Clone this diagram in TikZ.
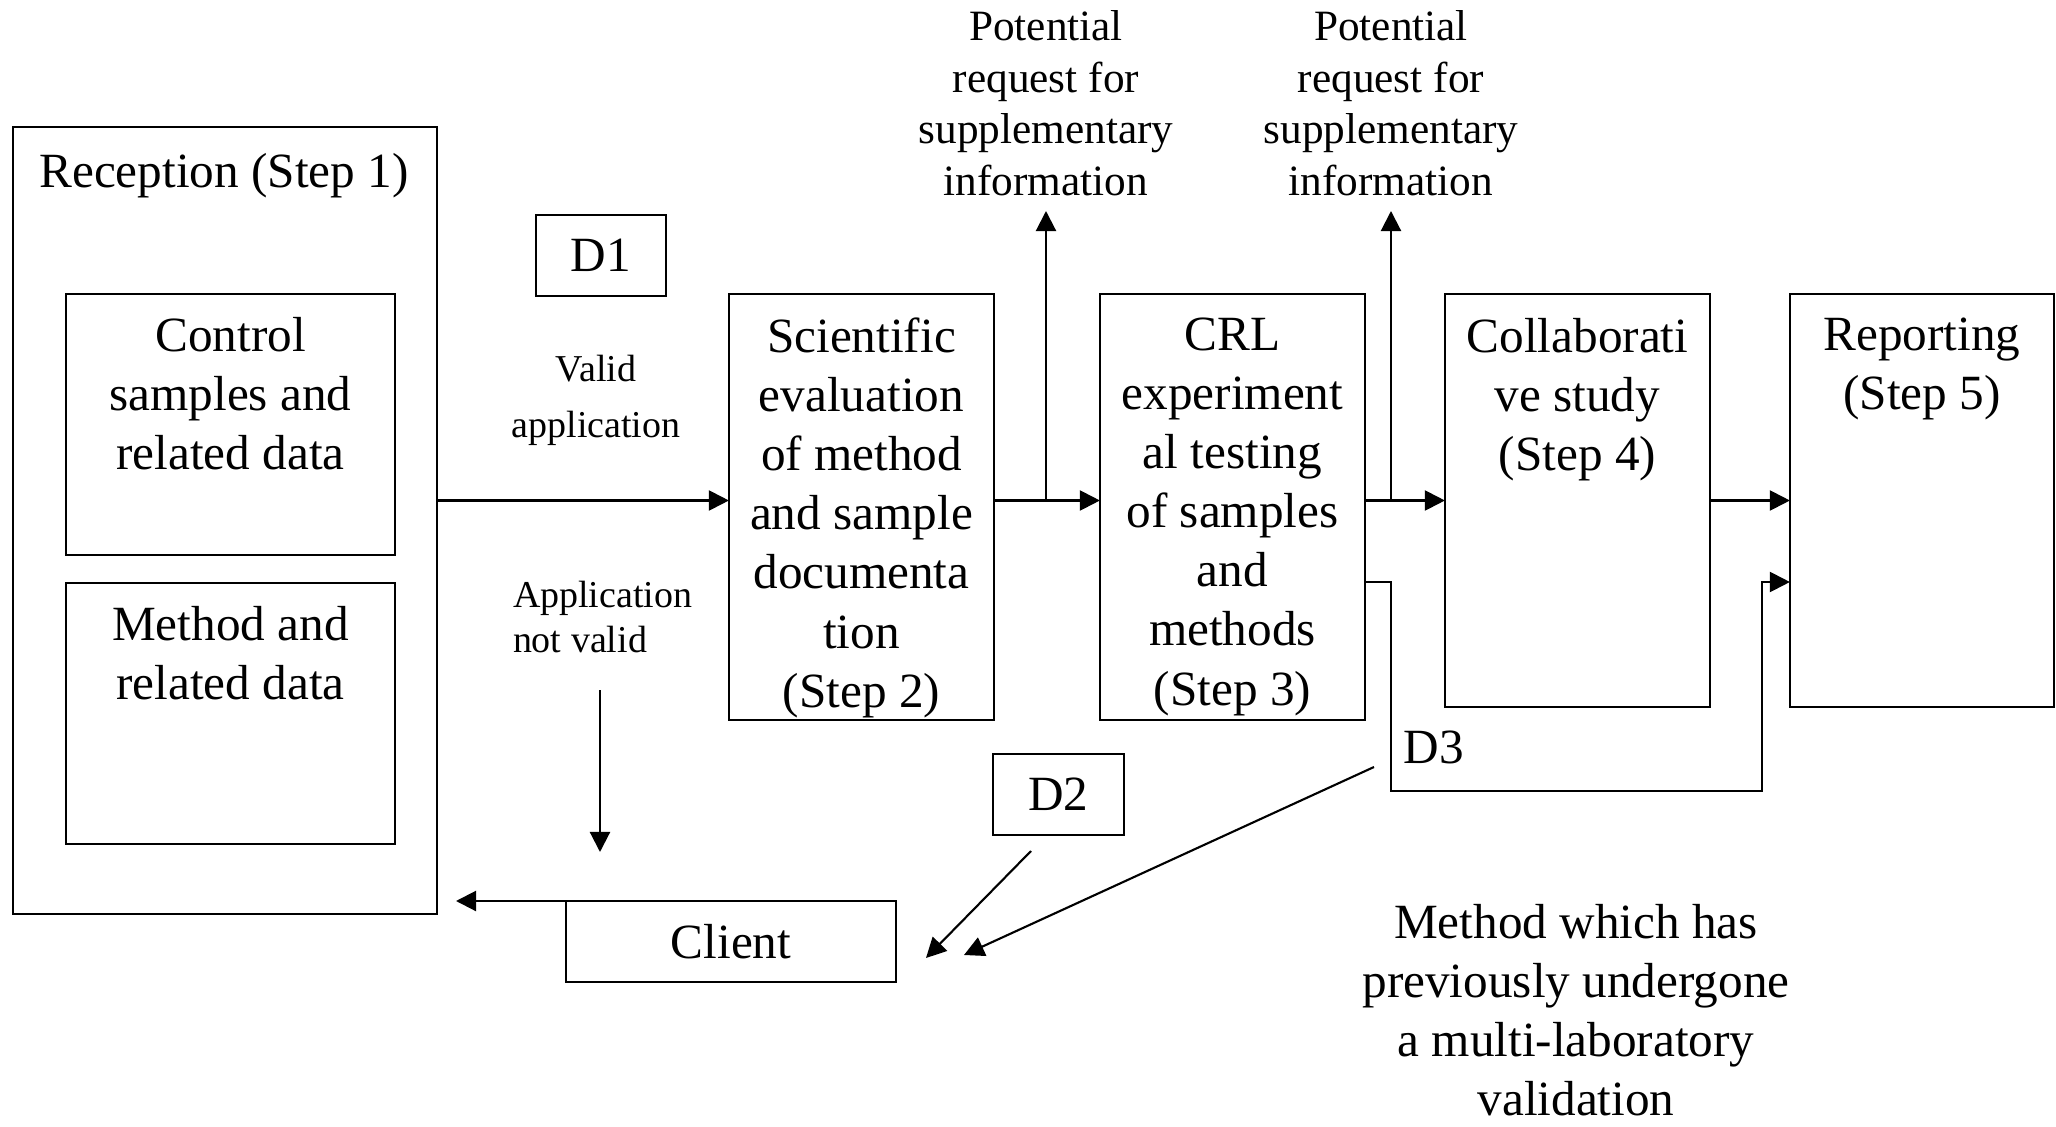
\documentclass[tikz,border=0pt]{standalone}
\usepackage{fontspec}
\setmainfont{Liberation Serif}
\usetikzlibrary{arrows.meta}
\begin{document}
\begin{tikzpicture}[x=0.01cm,y=-0.01cm,
  every node/.style={inner sep=0pt, outer sep=0pt},
  bx/.style={draw, line width=0.6pt},
  ln/.style={line width=0.6pt},
  arr/.style={ln, -{Triangle[length=0.2cm,width=0.2cm]}},
  big/.style={font=\fontsize{14}{16.8}\selectfont, align=center},
  pot/.style={font=\fontsize{12.3}{14.7}\selectfont, align=center},
  small/.style={font=\fontsize{10.8}{16}\selectfont, align=center}
]
\useasboundingbox (0,0) rectangle (2056,1127);

% boxes
\node[bx, minimum width=4.24cm, minimum height=7.87cm] (rec) at (225,520.5) {};
\node[bx, minimum width=3.29cm, minimum height=2.61cm] (ctrl) at (230.5,424.5) {};
\node[bx, minimum width=3.29cm, minimum height=2.61cm] (meth) at (230.5,713.5) {};
\node[bx, minimum width=1.30cm, minimum height=0.81cm, big] (d1) at (601,255.5) {D1};
\node[bx, minimum width=2.65cm, minimum height=4.26cm] (s2) at (861.5,507) {};
\node[bx, minimum width=2.65cm, minimum height=4.26cm] (s3) at (1232.5,507) {};
\node[bx, minimum width=2.65cm, minimum height=4.13cm] (s4) at (1577.5,500.5) {};
\node[bx, minimum width=2.64cm, minimum height=4.13cm] (s5) at (1922,500.5) {};
\node[bx, minimum width=1.31cm, minimum height=0.81cm, big] (d2) at (1058.5,794.5) {D2};
\node[bx, minimum width=3.30cm, minimum height=0.81cm, big] (client) at (731,941.5) {Client};

% texts
\node[big, anchor=north] (rect) at (224,153) {Reception (Step 1)};
\node[big, anchor=north] (ctrlt) at (230.5,317) {Control\\samples and\\related data};
\node[big, anchor=north] (metht) at (230.5,606) {Method and\\related data};
\node[big, anchor=north] (s2t) at (861.5,318) {Scientific\\evaluation\\of method\\and sample\\documenta\\tion\\(Step 2)};
\node[big, anchor=north] (s3t) at (1232.5,318) {CRL\\experiment\\al testing\\of samples\\and\\methods\\(Step 3)};
\node[big, anchor=north] (s4t) at (1577.5,318) {Collaborati\\ve study\\(Step 4)};
\node[big, anchor=north] (s5t) at (1922,318) {Reporting\\(Step 5)};
\node[small, anchor=north] (valid) at (596,355) {Valid\\application};
\node[font=\fontsize{10.8}{12.8}\selectfont, align=left, anchor=north west] (notvalid) at (513,581) {Application\\not valid};
\node[pot, anchor=north] (pot1) at (1046,10.5) {Potential\\request for\\supplementary\\information};
\node[pot, anchor=north] (pot2) at (1391,10.5) {Potential\\request for\\supplementary\\information};
\node[big] (d3) at (1434,747) {D3};
\node[big, anchor=north] (note) at (1576,904) {Method which has\\previously undergone\\a multi-laboratory\\validation};

% coordinates
\coordinate (j1) at (1046,500.5);
\coordinate (t1) at (1046,211);
\coordinate (j2) at (1391,500.5);
\coordinate (t2) at (1391,211);
\coordinate (lo) at (0,582);
\coordinate (r1) at (1391,791);
\coordinate (r2) at (1762,791);
\coordinate (nvA) at (600,690);
\coordinate (nvB) at (600,852);
\coordinate (backA) at (631,901);
\coordinate (backB) at (456,901);
\coordinate (d2A) at (1031,851);
\coordinate (d2B) at (926,958);
\coordinate (d3A) at (1374,767);
\coordinate (d3B) at (964,955);

% connectors
\draw[arr] (rec.east |- s4.west) -- (s2.west |- s4.west);
\draw[arr] (s2.east |- s4.west) -- (s3.west |- s4.west);
\draw[arr] (s3.east |- s4.west) -- (s4.west);
\draw[arr] (s4.east) -- (s5.west);
\draw[arr] (j1) -- (t1);
\draw[arr] (j2) -- (t2);
\draw[arr] (s3.east |- lo) -- (r1 |- lo) -- (r1) -- (r2) -- (r2 |- lo) -- (s5.west |- lo);
\draw[arr] (nvA) -- (nvB);
\draw[arr] (backA) -- (backB);
\draw[arr] (d2A) -- (d2B);
\draw[arr] (d3A) -- (d3B);
\end{tikzpicture}
\end{document}
